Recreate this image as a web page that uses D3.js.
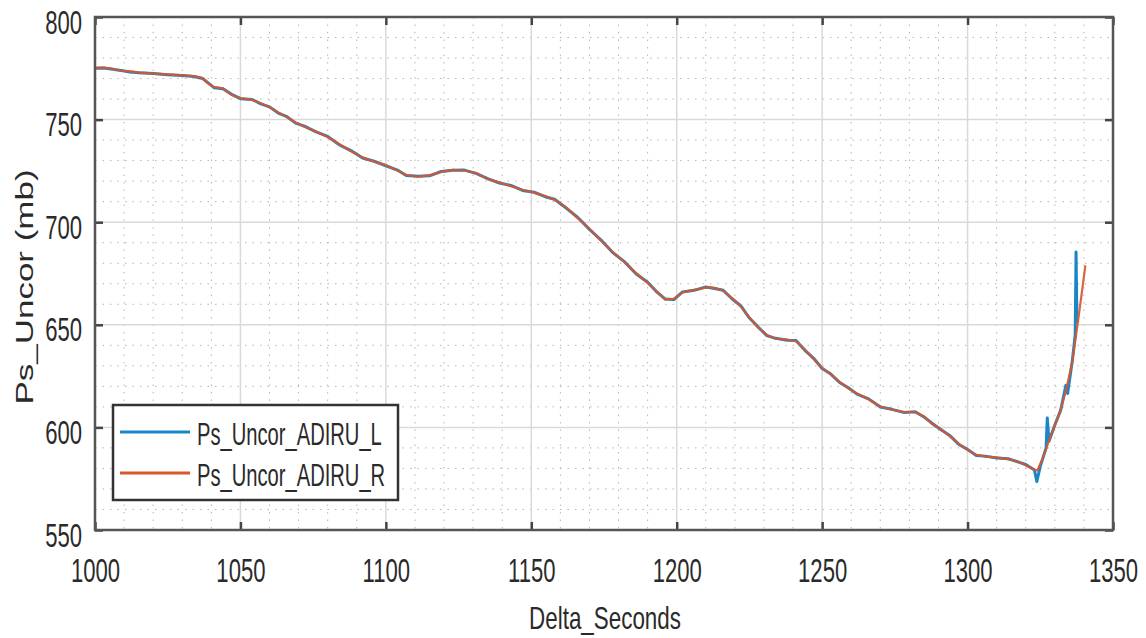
<!DOCTYPE html>
<html>
<head>
<meta charset="utf-8">
<script src="https://cdn.jsdelivr.net/npm/d3@7"></script>
<style>
  html, body { margin: 0; padding: 0; background: #ffffff; }
  svg { display: block; }
  text { font-family: "Liberation Sans", Arial, sans-serif; fill: #2a2a2a; }
</style>
</head>
<body>
<svg id="chart" width="1146" height="638"></svg>
<script>
// ---------- data ----------
const xTicks = [1000, 1050, 1100, 1150, 1200, 1250, 1300, 1350];
const yTicks = [550, 600, 650, 700, 750, 800];
const xTitle = "Delta_Seconds";
const yTitle = "Ps_Uncor (mb)";
const seriesNames = ["Ps_Uncor_ADIRU_L", "Ps_Uncor_ADIRU_R"];

const secondsR = [1000,1003,1005,1009,1012,1015,1020,1025,1030,1034,1037,1039,1041,1044,1047,1050,1054,1057,1060,1063,1066,1069,1072,1076,1080,1084,1088,1092,1096,1100,1104,1107,1111,1115,1119,1123,1127,1131,1135,1139,1143,1147,1151,1155,1158,1162,1166,1170,1174,1178,1182,1186,1190,1193,1196,1199,1202,1206,1210,1213,1216,1219,1222,1225,1228,1231,1234,1238,1241,1244,1247,1250,1253,1256,1259,1262,1266,1270,1274,1278,1282,1285,1288,1291,1294,1297,1300,1303,1306,1310,1314,1317,1320,1323,1324,1326,1328,1330,1332,1334,1336,1338,1339.5,1340.5];
const pressureR = [775.2,775.3,775.0,773.8,773.5,773.0,772.4,772.0,771.6,771.2,770.2,767.5,765.8,765.2,762.0,760.5,759.6,758.0,756.0,753.5,751.2,748.6,746.5,744.2,741.5,738.0,734.6,731.6,729.5,727.8,725.2,723.0,722.2,722.8,724.5,725.5,725.2,724.0,721.0,719.4,717.6,715.8,714.4,712.6,711.0,707.2,702.0,696.8,691.0,685.5,680.6,675.2,670.4,666.5,662.4,662.6,665.8,667.0,668.2,668.0,666.6,663.0,659.0,653.6,648.6,645.0,643.2,642.8,642.0,638.0,633.5,629.0,625.8,622.2,619.0,616.5,613.6,610.2,608.6,607.6,607.4,605.4,601.5,599.0,595.6,592.0,589.0,586.6,585.8,585.4,584.5,583.6,581.6,579.4,579.0,585.5,593.5,601.0,608.5,619.0,632.0,652.0,668.0,679.0];

const secondsL = [1000,1003,1005,1009,1012,1015,1020,1025,1030,1034,1037,1039,1041,1044,1047,1050,1054,1057,1060,1063,1066,1069,1072,1076,1080,1084,1088,1092,1096,1100,1104,1107,1111,1115,1119,1123,1127,1131,1135,1139,1143,1147,1151,1155,1158,1162,1166,1170,1174,1178,1182,1186,1190,1193,1196,1199,1202,1206,1210,1213,1216,1219,1222,1225,1228,1231,1234,1238,1241,1244,1247,1250,1253,1256,1259,1262,1266,1270,1274,1278,1282,1285,1288,1291,1294,1297,1300,1303,1306,1310,1314,1317,1320,1323,1323.8,1325,1327,1327.4,1328,1330,1332,1333.8,1334.4,1336,1337,1337.3,1337.6];
const pressureL = [775.0,775.1,774.8,773.9,773.2,772.8,772.5,771.8,771.5,771.0,770.0,767.8,765.5,765.0,762.3,760.2,759.8,757.7,756.2,753.2,751.4,748.3,746.8,744.0,741.8,737.7,734.9,731.3,729.7,727.5,725.4,722.8,722.4,722.6,724.7,725.3,725.4,723.8,721.2,719.1,717.9,715.5,714.6,712.3,711.2,706.9,702.3,696.5,691.3,685.2,680.8,674.9,670.7,666.2,662.6,662.3,666.0,666.8,668.4,667.7,666.8,662.7,659.3,653.3,648.9,644.7,643.4,642.5,642.3,637.7,633.8,628.7,626.0,621.9,619.3,616.2,613.9,609.9,608.8,607.3,607.6,605.1,601.8,598.7,595.9,591.7,589.3,586.3,586.0,585.1,584.7,583.3,581.9,579.2,573.6,581.0,590.0,604.6,593.3,601.2,608.3,620.5,616.5,632.3,645.0,685.5,651.0];

// ---------- layout ----------
const svg = d3.select("#chart");
const W = 1146, H = 638;
const pLeft = 95, pRight = 1113, pTop = 17, pBottom = 530;

const x = d3.scaleLinear().domain([1000, 1350]).range([pLeft, pRight]);
const y = d3.scaleLinear().domain([550, 800]).range([pBottom, pTop]);

svg.append("rect").attr("width", W).attr("height", H).attr("fill", "#ffffff");
svg.append("rect").attr("x", pLeft).attr("y", pTop).attr("width", pRight - pLeft).attr("height", pBottom - pTop).attr("fill", "#ffffff");

// minor grid
const xMinor = d3.range(1000, 1351, 10).filter(v => v % 50 !== 0);
const yMinor = d3.range(550, 801, 10).filter(v => v % 50 !== 0);
const grid = svg.append("g");
grid.selectAll(".xm").data(xMinor).join("line")
  .attr("x1", d => x(d)).attr("x2", d => x(d)).attr("y1", pTop).attr("y2", pBottom)
  .attr("stroke", "#b5b5b5").attr("stroke-width", 1).attr("stroke-dasharray", "1.5,6");
grid.selectAll(".ym").data(yMinor).join("line")
  .attr("y1", d => y(d)).attr("y2", d => y(d)).attr("x1", pLeft).attr("x2", pRight)
  .attr("stroke", "#b5b5b5").attr("stroke-width", 1).attr("stroke-dasharray", "1.5,6");
// major grid
grid.selectAll(".xM").data(xTicks).join("line")
  .attr("x1", d => x(d)).attr("x2", d => x(d)).attr("y1", pTop).attr("y2", pBottom)
  .attr("stroke", "#d9d9d9").attr("stroke-width", 1.5);
grid.selectAll(".yM").data(yTicks).join("line")
  .attr("y1", d => y(d)).attr("y2", d => y(d)).attr("x1", pLeft).attr("x2", pRight)
  .attr("stroke", "#d9d9d9").attr("stroke-width", 1.5);

// lines
const dataL = secondsL.map((s, i) => [s, pressureL[i]]);
const dataR = secondsR.map((s, i) => [s, pressureR[i]]);
const line = d3.line().x(d => x(d[0])).y(d => y(d[1])).curve(d3.curveLinear);
svg.append("path").datum(dataL).attr("d", line).attr("fill", "none")
  .attr("stroke", "#1a86c8").attr("stroke-width", 3).attr("stroke-linejoin", "round");
svg.append("path").datum(dataR).attr("d", line).attr("fill", "none")
  .attr("stroke", "#d9572a").attr("stroke-width", 2.2).attr("stroke-linejoin", "round").attr("opacity", 0.92);

// axes (ticks inside)
const sx = 0.65;
const axB = svg.append("g").attr("transform", `translate(0,${pBottom})`)
  .call(d3.axisBottom(x).tickValues(xTicks).tickSize(-8).tickFormat(d3.format("d")));
axB.select(".domain").remove();
axB.selectAll(".tick line").attr("stroke", "#444").attr("stroke-width", 2.5);
axB.selectAll(".tick text")
  .attr("font-size", 34).attr("fill", "#2a2a2a")
  .attr("y", 52).attr("dy", 0).attr("x", 0)
  .attr("transform", `scale(${sx},1)`);

const axL = svg.append("g").attr("transform", `translate(${pLeft},0)`)
  .call(d3.axisLeft(y).tickValues(yTicks).tickSize(-8).tickFormat(d3.format("d")));
axL.select(".domain").remove();
axL.selectAll(".tick line").attr("stroke", "#444").attr("stroke-width", 2.5);
axL.selectAll(".tick text")
  .attr("font-size", 34).attr("fill", "#2a2a2a")
  .attr("x", -13 / sx).attr("dy", 0).attr("y", 16)
  .attr("transform", `scale(${sx},1)`);

const axT = svg.append("g").attr("transform", `translate(0,${pTop})`)
  .call(d3.axisTop(x).tickValues(xTicks).tickSize(-8).tickFormat(""));
axT.select(".domain").remove();
axT.selectAll(".tick line").attr("stroke", "#444").attr("stroke-width", 2.5);

const axR = svg.append("g").attr("transform", `translate(${pRight},0)`)
  .call(d3.axisRight(y).tickValues(yTicks).tickSize(-8).tickFormat(""));
axR.select(".domain").remove();
axR.selectAll(".tick line").attr("stroke", "#444").attr("stroke-width", 2.5);

// box
svg.append("rect").attr("x", pLeft).attr("y", pTop).attr("width", pRight - pLeft).attr("height", pBottom - pTop)
  .attr("fill", "none").attr("stroke", "#555").attr("stroke-width", 2.5);

// titles
svg.append("text").text(xTitle)
  .attr("transform", `translate(605,629) scale(0.7,1)`)
  .attr("text-anchor", "middle").attr("font-size", 32);
svg.append("text").text(yTitle)
  .attr("transform", `translate(33,287) scale(0.66,1) rotate(-90)`)
  .attr("text-anchor", "middle").attr("font-size", 35);

// legend
const lg = svg.append("g");
lg.append("rect").attr("x", 113).attr("y", 405).attr("width", 285).attr("height", 95)
  .attr("fill", "#ffffff").attr("stroke", "#333").attr("stroke-width", 2.5);
const legColors = ["#1a86c8", "#d9572a"];
const legY = [432, 473];
seriesNames.forEach((name, i) => {
  lg.append("line").attr("x1", 120).attr("x2", 190).attr("y1", legY[i]).attr("y2", legY[i])
    .attr("stroke", legColors[i]).attr("stroke-width", 3);
  lg.append("text").text(name)
    .attr("transform", `translate(197,${legY[i] + 13}) scale(0.63,1)`)
    .attr("font-size", 32);
});
</script>
</body>
</html>
